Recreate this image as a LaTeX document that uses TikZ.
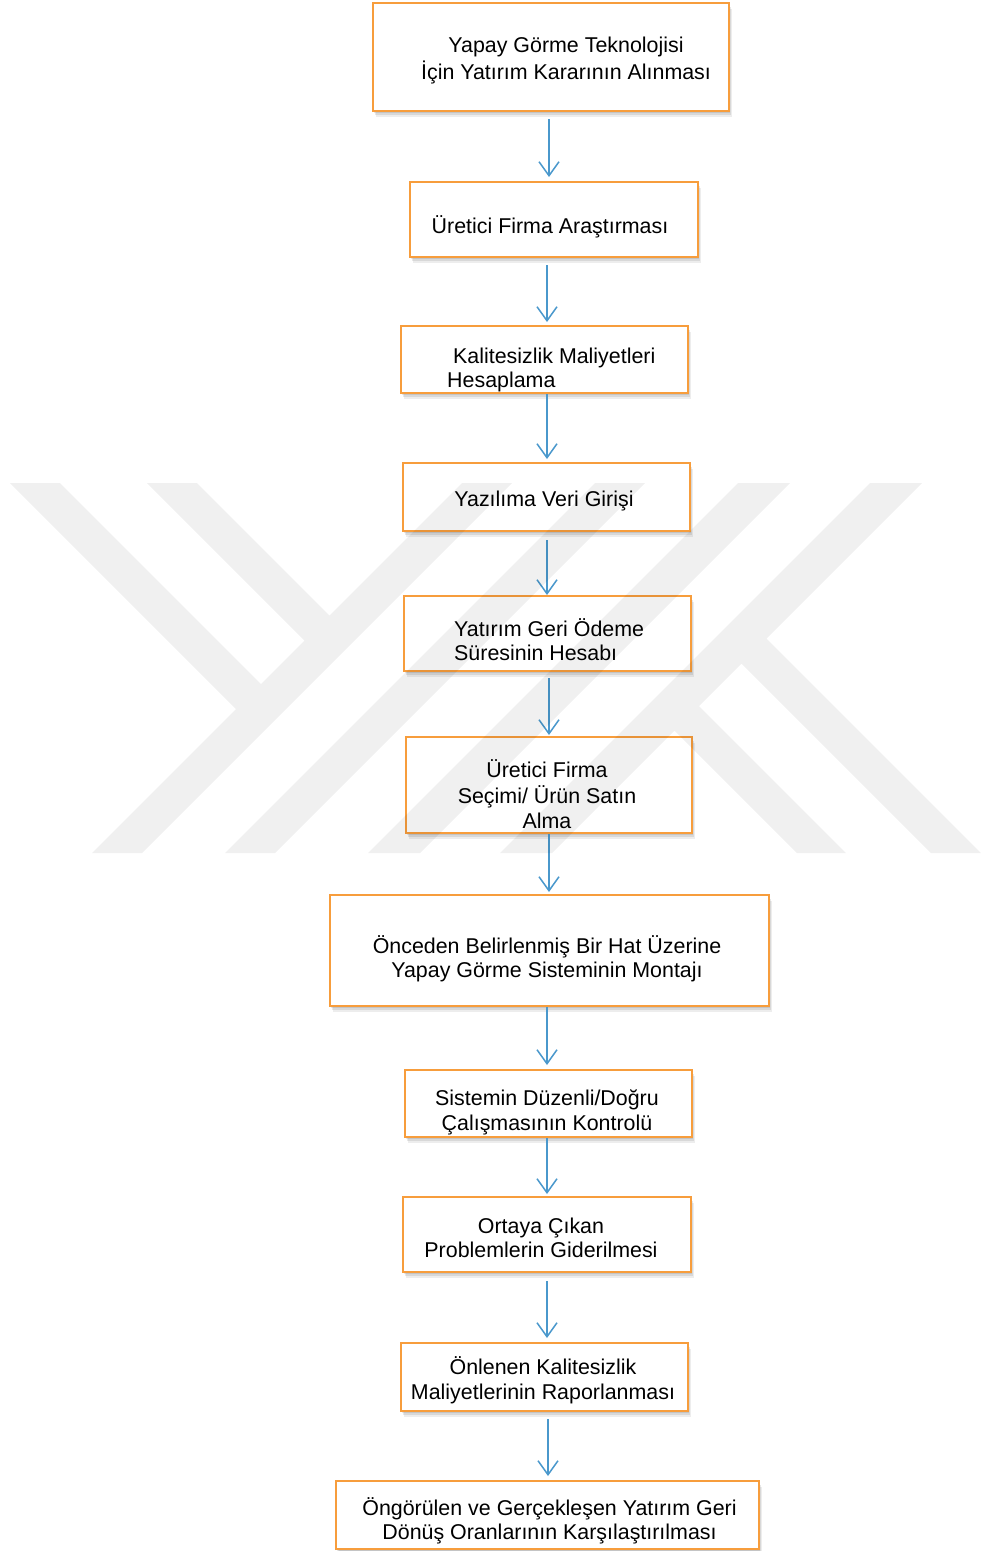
\documentclass[tikz,border=0pt]{standalone}
\usepackage{fontspec}
\setmainfont{Liberation Sans}
\usetikzlibrary{arrows.meta,shadows}
\definecolor{boxorange}{RGB}{247,157,60}
\definecolor{arrowblue}{RGB}{74,152,204}
\begin{document}
\begin{tikzpicture}[x=1pt,y=-1pt,
  box/.style={rectangle, draw=boxorange, line width=2pt, fill=white, inner sep=0pt,
    drop shadow={shadow xshift=1pt, shadow yshift=-2pt, opacity=0.09, fill=black},
    drop shadow={shadow xshift=2pt, shadow yshift=-4pt, opacity=0.09, fill=black},
    drop shadow={shadow xshift=2.5pt, shadow yshift=-6pt, opacity=0.07, fill=black}},
  lbl/.style={inner sep=0pt, font=\fontsize{21.4}{24.4}\selectfont, align=center, text=black},
  arr/.style={draw=arrowblue, line width=1.5pt, -{Straight Barb[length=14pt,width=20pt]}},
  watermark/.style={fill=black, opacity=0.058}
]
\useasboundingbox (0,0) rectangle (982,1551);

% boxes
\node[box, minimum width=356pt, minimum height=108pt] (b1) at (551,57) {};
\node[box, minimum width=288pt, minimum height=75pt] (b2) at (554,219.5) {};
\node[box, minimum width=287pt, minimum height=67pt] (b3) at (544.5,359.5) {};
\node[box, minimum width=287pt, minimum height=68pt] (b4) at (546.5,497) {};
\node[box, minimum width=287pt, minimum height=75pt] (b5) at (547.5,633.5) {};
\node[box, minimum width=286pt, minimum height=96pt] (b6) at (549,785) {};
\node[box, minimum width=439pt, minimum height=111pt] (b7) at (549.5,950.5) {};
\node[box, minimum width=287pt, minimum height=67pt] (b8) at (548.5,1103.5) {};
\node[box, minimum width=288pt, minimum height=75pt] (b9) at (547,1234.5) {};
\node[box, minimum width=287pt, minimum height=68pt] (b10) at (544.5,1377) {};
\node[box, minimum width=423pt, minimum height=68pt] (b11) at (547.5,1515) {};

% texts
\node[lbl] (t1) at (566,61) {\strut Yapay Görme Teknolojisi\\\strut İçin Yatırım Kararının Alınması};
\node[lbl] (t2) at (550,228) {\strut Üretici Firma Araştırması};
\node[lbl, align=left, anchor=west] (t3) at (447,370.5) {\hspace*{6pt}\strut Kalitesizlik Maliyetleri\\\strut Hesaplama};
\node[lbl] (t4) at (544,502) {\strut Yazılıma Veri Girişi};
\node[lbl, align=left, anchor=west] (t5) at (454,643) {\strut Yatırım Geri Ödeme\\\strut Süresinin Hesabı};
\node[lbl] (t6) at (547,797.5) {\strut Üretici Firma\\\strut Seçimi/ Ürün Satın\\\strut Alma};
\node[lbl] (t7) at (547,960) {\strut Önceden Belirlenmiş Bir Hat Üzerine\\\strut Yapay Görme Sisteminin Montajı};
\node[lbl] (t8) at (547,1113) {\strut Sistemin Düzenli/Doğru\\\strut Çalışmasının Kontrolü};
\node[lbl] (t9) at (541,1240.5) {\strut Ortaya Çıkan\\\strut Problemlerin Giderilmesi};
\node[lbl] (t10) at (543,1381.5) {\strut Önlenen Kalitesizlik\\\strut Maliyetlerinin Raporlanması};
\node[lbl] (t11) at (549.5,1522) {\strut Öngörülen ve Gerçekleşen Yatırım Geri\\\strut Dönüş Oranlarının Karşılaştırılması};

% connectors
\draw[arr, shorten <=7pt, shorten >=4pt] (b1.south -| 549,0) -- (b2.north -| 549,0);
\draw[arr, shorten <=7pt, shorten >=3pt] (b2.south -| 547,0) -- (b3.north -| 547,0);
\draw[arr, shorten >=3pt] (b3.south -| 547,0) -- (b4.north -| 547,0);
\draw[arr, shorten <=8pt] (b4.south -| 547,0) -- (b5.north -| 547,0);
\draw[arr, shorten <=6pt, shorten >=1pt] (b5.south -| 549,0) -- (b6.north -| 549,0);
\draw[arr, shorten >=2pt] (b6.south -| 549,0) -- (b7.north -| 549,0);
\draw[arr, shorten >=4pt] (b7.south -| 547,0) -- (b8.north -| 547,0);
\draw[arr, shorten >=2pt] (b8.south -| 547,0) -- (b9.north -| 547,0);
\draw[arr, shorten <=8pt, shorten >=4pt] (b9.south -| 547,0) -- (b10.north -| 547,0);
\draw[arr, shorten <=7pt, shorten >=4pt] (b10.south -| 548,0) -- (b11.north -| 548,0);

% background watermark (drawn translucent over everything)
\fill[watermark]
  (10,483) -- (60,483) -- (268.5,691.5) -- (243.5,716.5) -- cycle
  (147,483) -- (197,483) -- (337,623) -- (312,648) -- cycle
  (462,483) -- (512,483) -- (142,853) -- (92,853) -- cycle
  (595,483) -- (645,483) -- (275,853) -- (225,853) -- cycle
  (738,483) -- (790,483) -- (420,853) -- (368,853) -- cycle
  (870,483) -- (922,483) -- (552,853) -- (500,853) -- cycle
  (691.5,698.5) -- (846,853) -- (797,853) -- (667,723) -- cycle
  (759,631) -- (981,853) -- (931,853) -- (734,656) -- cycle;
\end{tikzpicture}
\end{document}
